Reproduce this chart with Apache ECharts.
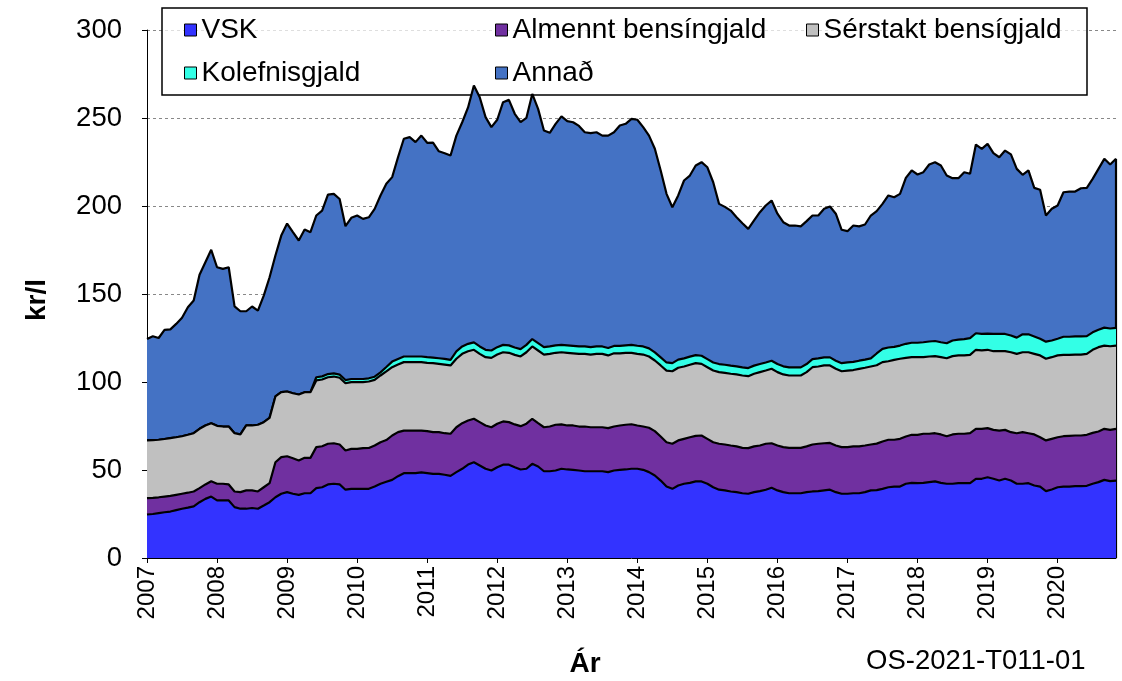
<!DOCTYPE html>
<html>
<head>
<meta charset="utf-8">
<script src="https://cdn.jsdelivr.net/npm/echarts@6/dist/echarts.min.js"></script>
<style>
html, body { margin: 0; padding: 0; background: #fff; }
#chart { width: 1122px; height: 681px; }
</style>
</head>
<body>
<div id="chart"></div>
<script>
// ===== Gögn (kr/l), mánaðarleg frá jan 2007 =====
const years = ['2007','2008','2009','2010','2011','2012','2013','2014','2015','2016','2017','2018','2019','2020'];

// efri mörk hvers lags í staflanum
const vskTop = [
  24.7,25,25.5,26,26.4,27.2,28,28.6,29.3,31.7,33.6,34.9,32.7,32.7,32.7,28.9,28,28,28.4,28,29.8,31.7,34.5,36.5,37.4,36.5,35.9,36.8,36.8,39.7,40.2,41.8,42.2,41.8,38.8,39.3,39.3,39.3,39.3,40.6,42.2,43.3,
  44.4,46.5,48.2,48.2,48.2,48.6,48.2,47.8,47.8,47.3,46.7,48.8,50.7,53.1,54.4,52.6,50.7,49.7,51.6,53,53,51.6,50.3,50.7,53.5,52,49.3,49.3,49.7,50.7,50.3,50.1,49.7,49.3,49.3,49.3,49.3,48.8,49.7,50.1,50.3,50.7,
  50.7,50.1,48.8,46.9,44,40.6,39.3,41.2,42.2,42.7,43.5,43.5,42.2,40.2,38.8,38.4,37.8,37.4,36.8,36.5,37.4,38,38.8,39.9,38.4,37.4,36.8,36.8,36.8,37.4,37.8,38,38.4,38.8,37.4,36.5,36.5,36.8,36.8,37.4,38.4,38.6,
  39.3,40.2,40.6,40.6,42.2,42.7,42.5,42.7,43.1,43.5,42.7,42.2,42.2,42.5,42.5,42.5,45,45,45.9,45,44,45,44,42.2,42.2,42.5,41.2,40.6,38,38.9,40.2,40.6,40.6,40.8,40.8,41,42.2,43.1,44.4,43.7,44
];
const almenntTop = [
  34,34.2,34.5,34.9,35.3,35.9,36.5,37.1,37.8,39.7,41.8,43.6,42.2,42.2,41.8,37.8,37.4,38.4,38.4,37.8,40.2,42.5,54.4,57.3,57.8,56.7,55.4,56.9,56.9,63,63.5,64.9,65.2,64.5,61.1,62,62,62.4,62.5,63.9,65.8,67,
  69.6,71.5,72.4,72.4,72.4,72.4,72.1,71.5,71.5,70.9,70.6,74.3,76.6,78.1,79.1,77.2,75.3,74.3,76.3,77.6,77.2,75.9,74.9,76.3,79.1,76.6,74.3,74.7,75.7,75.9,75.3,75.3,74.7,74.7,74.3,74.3,74.3,73.8,74.7,75.3,75.7,76,
  75.3,74.7,74,72.1,69,65.8,64.9,66.8,67.7,68.6,69.4,69.6,67.7,65.8,64.9,64.5,63.9,63.4,62.6,62.4,63.4,63.9,64.9,65.2,63.9,63,62.6,62.6,62.6,63.4,64.5,64.9,65.2,65.4,63.9,63,63,63.4,63.4,63.9,64.5,65,
  66.2,67.2,67.2,67.7,69,70,70,70.6,70.6,70.9,70.2,69.2,70.2,70.6,70.6,70.9,73.4,73.4,73.8,72.8,72.4,72.8,71.5,70.9,71.5,70.9,70.2,68.6,66.8,67.7,68.6,69.2,69.4,69.6,69.6,70,71.1,71.9,73.4,72.8,73.4
];
const serstaktTop = [
  66.8,67,67.2,67.6,68.1,68.6,69.2,70,70.9,73.4,75.3,76.6,75.1,74.7,74.7,70.9,70.2,75.3,75.3,75.7,77.2,79.6,91.8,94.2,94.6,93.6,92.9,94.2,94.2,100.9,101.4,102.7,103.1,102.4,99.3,99.9,99.9,99.9,100.3,101.2,103.7,106,
  108.4,109.9,111.3,111.3,111.3,111.3,110.9,110.7,110.3,109.9,109.4,113.2,116,117.5,118.3,116,114.1,113.7,115.6,116.9,116.6,115.4,114.5,116.9,120.2,117.9,115.6,116,116.6,116.9,116.6,116.3,116,116,115.6,116,116,115.1,116.3,116.3,116.6,116.5,
  116,115.6,114.5,112.2,109.4,106.5,106.1,108.1,108.8,109.8,110.7,110.3,108.4,106.5,105.6,105.2,104.7,104.3,103.7,103.3,104.7,105.6,106.5,107.5,105.6,104.3,103.7,103.7,103.7,105.6,108.4,108.8,109.4,109.4,107.5,106.1,106.5,106.8,107.5,108.1,108.8,109.5,
  111.3,111.8,112.6,113.2,113.7,114.1,114.1,114.1,114.5,114.7,114.1,113.5,114.7,115.1,115.1,115.4,118.3,118,118.3,117.5,117.5,117.5,116.9,116,116.9,116.9,116,115.1,113.2,114.1,115.1,115.4,115.4,115.6,115.6,116,118.3,119.8,120.7,120.3,120.7
];
// kolefnisgjald sjálft (þykkt lagsins)
const kolefnisgjald = [
  0,0,0,0,0,0,0,0,0,0,0,0,0,0,0,0,0,0,0,0,0,0,0,0,0,0,0,0,0,1.8,1.8,1.8,1.8,1.8,1.8,1.8,1.8,1.8,1.8,1.8,1.8,2.5,
  3.2,3.2,3.2,3.2,3.2,3.2,3.2,3.2,3.2,3.2,3.2,4.2,4.2,4.2,4.2,4.2,4.2,4.2,4.2,4.2,4.2,4.2,4.2,4.2,4.2,4.2,4.2,4.2,4.2,4.2,4.2,4.2,4.2,4.2,4.2,4.2,4.2,4.2,4.2,4.2,4.2,4.6,
  4.6,4.6,4.6,4.6,4.6,4.6,4.6,4.6,4.6,4.6,4.6,4.6,4.6,4.6,4.6,4.6,4.6,4.6,4.6,4.6,4.6,4.6,4.6,4.6,4.6,4.6,4.6,4.6,4.6,4.6,4.6,4.6,4.6,4.6,4.6,4.6,4.6,4.6,4.6,4.6,4.6,6.7,
  7.5,7.8,7.4,7.5,8,8.2,8.2,8.5,8.5,8.6,8.5,8.5,8.9,9,9.3,9.5,9.4,9.3,9.2,9.8,9.8,9.8,9.5,9.2,10.2,10.2,9.9,9.5,9.7,9.5,9.5,10.3,10.3,10.3,10.3,10.1,9.9,9.9,10.2,10.1,10
];
// heildarverð (efsta lína)
const heild = [
  124.5,126,125,129.6,129.9,133,136.5,142.5,146.3,160.9,168,175.1,165.2,164.3,165.2,143,140.2,140.2,142.9,140.6,149.1,159.5,171.9,183.2,190,185.1,180.4,186.6,185.1,194.6,197.4,206.5,206.9,204,188.5,193.3,194.6,192.7,193.6,198.4,206,212.6,
  216.4,227.7,238.2,239.1,236.3,240,235.9,236,231.1,230,228.7,240,247.6,256,268.5,261.8,250.5,244.8,249,259,260.3,252.4,247.6,250.1,263.7,255.2,242.9,241.6,246.7,250.9,248.2,247.6,245.5,241.9,241.4,241.9,240,240,241.9,245.7,246.7,249.5,
  249,244.8,240,232.5,220.2,206.9,199.3,206,214.5,217.3,223,224.9,222,213.5,201.2,199.5,197.4,193.6,190.2,187,191.8,196.5,200.3,203.1,195.6,190.8,188.9,188.9,188.4,191.4,194.6,194.6,198.4,199.7,195.6,186.5,185.7,188.9,188.4,189.5,194.6,197.1,
  201.2,206,205,206.9,216,220.2,217.9,219.2,223.6,224.9,223,217.3,215.8,215.8,219.2,218.3,234.9,232.5,235.3,230,227.7,231.5,229.3,221.1,217.7,220.2,210.3,209.2,194.6,198.4,200.3,207.8,208.2,208.2,210.1,210.3,215.4,221.1,226.8,223.6,226.8
];

const FONT = '"Liberation Sans", Arial, sans-serif';
const COLORS = {
    vsk: '#3333FF',
    almennt: '#7030A0',
    serstakt: '#C0C0C0',
    kolefnis: '#33FFE6',
    annad: '#4472C4'
};

// mánaðarflokkar
const months = [];
years.forEach(y => {
    for (let m = 1; m <= 12; m++) months.push(y + '-' + String(m).padStart(2, '0'));
});
const cats = months.slice(0, heild.length);
const last = cats.length - 1;

// þættir staflans
const vsk = vskTop;
const almennt = almenntTop.map((v, i) => +(v - vskTop[i]).toFixed(2));
const serstakt = serstaktTop.map((v, i) => +(v - almenntTop[i]).toFixed(2));
const kolefnis = kolefnisgjald;
const annad = heild.map((v, i) => +(v - serstaktTop[i] - kolefnisgjald[i]).toFixed(2));

function areaSeries(name, data, color, z) {
    return {
        name: name,
        type: 'line',
        stack: 'heild',
        data: data,
        symbol: 'none',
        z: z,
        lineStyle: { color: '#000', width: 2.2 },
        itemStyle: { color: color },
        areaStyle: { color: color, opacity: 1 },
        emphasis: { disabled: true }
    };
}

const series = [
    areaSeries('VSK', vsk, COLORS.vsk, 8),
    areaSeries('Almennt bensíngjald', almennt, COLORS.almennt, 7),
    areaSeries('Sérstakt bensígjald', serstakt, COLORS.serstakt, 6),
    areaSeries('Kolefnisgjald', kolefnis, COLORS.kolefnis, 5),
    areaSeries('Annað', annad, COLORS.annad, 4)
];
// lóðrétt brún hægra megin
series[4].markLine = {
    silent: true,
    symbol: 'none',
    label: { show: false },
    lineStyle: { color: '#000', width: 2.2, type: 'solid' },
    data: [[{ coord: [cats[last], 0] }, { coord: [cats[last], heild[last]] }]]
};

const legendItems = [
    { name: 'VSK', left: 184, cy: 30 },
    { name: 'Almennt bensíngjald', left: 495, cy: 30 },
    { name: 'Sérstakt bensígjald', left: 806, cy: 30 },
    { name: 'Kolefnisgjald', left: 184, cy: 73 },
    { name: 'Annað', left: 495, cy: 73 }
];

const chart = echarts.init(document.getElementById('chart'), null, { renderer: 'canvas' });
chart.setOption({
    animation: false,
    backgroundColor: '#fff',
    grid: { left: 147, right: 6, top: 30, bottom: 123 },
    legend: legendItems.map(p => ({
        data: [{ name: p.name, icon: 'rect' }],
        left: p.left,
        top: p.cy - 15,
        padding: 0,
        itemWidth: 12,
        itemHeight: 12,
        selectedMode: false,
        z: 6,
        itemStyle: { borderColor: '#000', borderWidth: 1 },
        textStyle: { fontSize: 28, fontFamily: FONT, color: '#000', lineHeight: 30 }
    })),
    xAxis: {
        type: 'category',
        data: cats,
        boundaryGap: false,
        axisLine: { lineStyle: { color: '#000', width: 1 } },
        axisTick: { show: true, interval: 11, length: 5, lineStyle: { color: '#000' } },
        axisLabel: {
            interval: 11,
            rotate: 90,
            margin: 8,
            color: '#000',
            fontSize: 24,
            fontFamily: FONT,
            formatter: v => v.slice(0, 4)
        },
        splitLine: { show: false }
    },
    yAxis: {
        type: 'value',
        min: 0,
        max: 300,
        interval: 50,
        axisLine: { show: true, lineStyle: { color: '#000', width: 1 } },
        axisTick: { show: true, length: 5, lineStyle: { color: '#000' } },
        axisLabel: { color: '#000', fontSize: 27.5, fontFamily: FONT, margin: 25 },
        splitLine: { show: true, lineStyle: { color: '#888', type: [3, 3], width: 1 } }
    },
    graphic: [
        {
            type: 'rect',
            z: 3,
            silent: true,
            shape: { x: 162, y: 8, width: 925, height: 87 },
            style: { fill: 'rgba(255,255,255,0.72)', stroke: '#000', lineWidth: 1.5 }
        },
        {
            type: 'text',
            x: 37, y: 300,
            rotation: Math.PI / 2,
            style: { text: 'kr/l', fill: '#000', fontSize: 28, fontWeight: 'bold', fontFamily: FONT,
                     textAlign: 'center', textVerticalAlign: 'middle' }
        },
        {
            type: 'text',
            x: 585, y: 664,
            style: { text: 'Ár', fill: '#000', fontSize: 28, fontWeight: 'bold', fontFamily: FONT,
                     textAlign: 'center', textVerticalAlign: 'middle' }
        },
        {
            type: 'text',
            x: 866, y: 661,
            style: { text: 'OS-2021-T011-01', fill: '#000', fontSize: 27.5, fontFamily: FONT,
                     textAlign: 'left', textVerticalAlign: 'middle' }
        }
    ],
    series: series
});

window.addEventListener('resize', function () { chart.resize(); });
</script>
</body>
</html>
